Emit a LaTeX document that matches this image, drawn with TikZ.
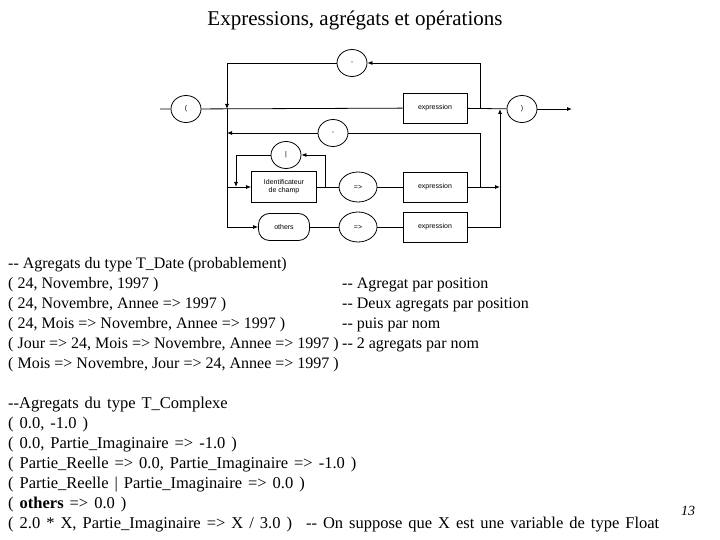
\documentclass[tikz,border=0pt]{standalone}
\usepackage{fontspec}
\setmainfont{Liberation Serif}
\setsansfont{Liberation Sans}
\usetikzlibrary{arrows.meta,shapes.geometric,positioning,calc}
\newcommand\dd{-\kern0pt-}
\newcommand\widesp{\spaceskip=6pt plus 1pt minus 1pt\relax}

\begin{document}
\begin{tikzpicture}[x=1pt, y=-1pt,
    term/.style={draw, thick, ellipse, minimum width=30pt, minimum height=27pt, inner sep=0pt, font=\sffamily\fontsize{7}{8}\selectfont},
    nterm/.style={draw, thick, minimum width=64pt, minimum height=30pt, align=center, inner sep=1pt, font=\sffamily\fontsize{7}{8}\selectfont},
    ln/.style={thick},
    arr/.style={thick, -{Latex[length=5pt, width=4pt]}},
    txt/.style={anchor=base west, inner sep=0pt, font=\fontsize{16}{20}\selectfont},
    txtb/.style={txt, font=\fontsize{16.5}{20}\selectfont\widesp}
]
\useasboundingbox (0,0) rectangle (720,540);
\node[font=\fontsize{21}{24}\selectfont] (title) at (355,20) {Expressions, agrégats et opérations};

\coordinate (in) at (160,109);
\node[term] (lpar) at (186,109) {(};
\node[nterm] (expr1) at (435,108) {expression};
\node[term] (rpar) at (522,109) {)};
\coordinate (out) at (572,109);
\node[term] (comma1) at (352,63) {,};
\node[term] (comma2) at (333,133) {,};
\node[term] (bar) at (286,155) {|};
\node[nterm, minimum width=65pt, minimum height=31pt] (ident) at (284,187) {Identificateur\\de champ};
\node[term, minimum width=38pt, minimum height=30pt] (to1) at (358,187) {=>};
\node[nterm] (expr2) at (435,187) {expression};
\node[nterm, rounded corners=11pt, minimum width=51pt, minimum height=27pt] (others) at (284,227) {others};
\node[term, minimum width=38pt, minimum height=30pt] (to2) at (358,227) {=>};
\node[nterm] (expr3) at (435,227) {expression};

\coordinate (jl) at (227,109);
\coordinate (jc) at (227,133);
\coordinate (ji) at (227,187);
\coordinate (jo) at (227,227);
\coordinate (jb) at (236,187);
\coordinate (bi) at (325,187);
\coordinate (r1) at (480,109);
\coordinate (r2) at (480,187);
\coordinate (r3) at (500,109);
\coordinate (r4) at (500,187);

\draw[ln] (in) -- (lpar) -- (expr1) -- (rpar);
\draw[arr] (rpar) -- (out);
\draw[arr] (r1) |- (comma1);
\draw[arr] (comma1) -| (jl);
\draw[ln] (jl) -- (jo);
\draw[ln] (r2) |- (comma2);
\draw[arr] (comma2) -- (jc);
\draw[arr] (ji) -- (ident);
\draw[ln] (ident) -- (to1) -- (expr2);
\draw[arr] (bi) |- (bar);
\draw[arr] (bar) -| (jb);
\draw[arr] (expr2) -- (r4);
\draw[arr] (jo) -- (others);
\draw[ln] (others) -- (to2) -- (expr3);
\draw[arr] (expr3) -| (r3);

\node[txt] (d0) at (8,268) {\dd{} Agregats du type T\_Date (probablement)};
\node[txt] (d1) at (8,288) {( 24, Novembre, 1997 )};
\node[txt] (d2) at (8,308) {( 24, Novembre, Annee => 1997 )};
\node[txt] (d3) at (8,328) {( 24, Mois => Novembre, Annee => 1997 )};
\node[txt] (d4) at (8,348) {( Jour => 24, Mois => Novembre, Annee => 1997 )};
\node[txt] (d5) at (8,368) {( Mois => Novembre, Jour => 24, Annee => 1997 )};
\node[txt] (c1) at (342,288) {\dd{} Agregat par position};
\node[txt] (c2) at (342,308) {\dd{} Deux agregats par position};
\node[txt] (c3) at (342,328) {\dd{} puis par nom};
\node[txt] (c4) at (342,348) {\dd{} 2 agregats par nom};

\node[txtb] (k0) at (8,408) {\dd Agregats du type T\_Complexe};
\node[txtb] (k1) at (8,428) {( 0.0, -1.0 )};
\node[txtb] (k2) at (8,448) {( 0.0, Partie\_Imaginaire => -1.0 )};
\node[txtb] (k3) at (8,468) {( Partie\_Reelle => 0.0, Partie\_Imaginaire => -1.0 )};
\node[txtb] (k4) at (8,488) {( Partie\_Reelle | Partie\_Imaginaire => 0.0 )};
\node[txtb] (k5) at (8,508) {( \textbf{others} => 0.0 )};
\node[txtb] (k6) at (8,528) {( 2.0 * X, Partie\_Imaginaire => X / 3.0 )\hspace{14pt}\dd{} On suppose que X est une variable de type Float};
\node[font=\rmfamily\itshape\fontsize{14}{16}\selectfont] (page) at (688,511) {13};
\end{tikzpicture}
\end{document}
